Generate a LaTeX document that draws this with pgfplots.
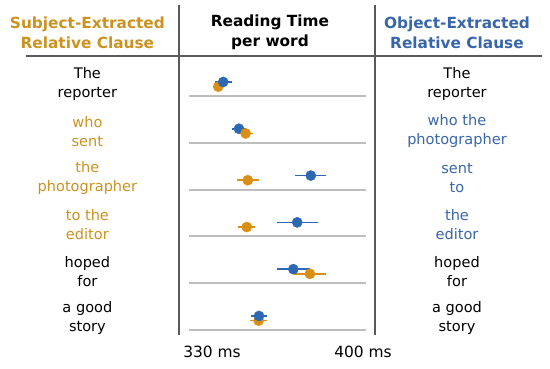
\documentclass[border=0pt]{standalone}
\usepackage{fontspec}
\setmainfont{DejaVu Sans}
\usepackage{pgfplots}
\pgfplotsset{compat=1.18}
\definecolor{dotor}{RGB}{216,143,20}
\definecolor{dotbl}{RGB}{46,104,178}
\definecolor{txtor}{RGB}{204,146,32}
\definecolor{txtbl}{RGB}{56,102,170}
\definecolor{basegray}{RGB}{190,190,190}
\definecolor{vgray}{RGB}{90,90,90}

\pgfplotstableread{
x e y
332.9 2.3 0.8
346.6 5.1 2.8
346.1 3.9 3.8
351.6 3.8 5.8
}\orA
\pgfplotstableread{
x e y
345.6 3.2 1.8
375.4 7.3 4.8
}\orB
\pgfplotstableread{
x e y
335.2 3.9 0.7
342.5 3.4 1.7
375.8 7.2 2.7
369.5 9.5 3.7
367.7 7.7 4.7
351.8 3.6 5.7
}\bl

\begin{document}
\begin{tikzpicture}
\begin{axis}[
  scale only axis, width=177bp, height=330bp,
  xmin=319.337, xmax=401.396,
  ymin=-0.9444, ymax=6.1068, y dir=reverse,
  axis line style={draw=none}, tick style={draw=none},
  xtick={330,400}, xticklabels={330 ms,400 ms},
  xticklabel style={anchor=center, yshift=-17bp, font=\fontsize{15.5}{18}\selectfont},
  ytick={1,2,3,4,5,6}, yticklabels={},
  ymajorgrids, grid style={draw=basegray, line width=2bp},
  clip=false,
]
\addplot[only marks, mark=*, mark size=5.1bp, color=dotor, mark options={fill=dotor, draw=dotor},
  error bars/.cd, x dir=both, x explicit, error mark=none, error bar style={line width=1.5bp, dotor}]
  table[x=x, y=y, x error=e] {\orA};
\addplot[only marks, mark=*, mark size=5.1bp, color=dotbl, mark options={fill=dotbl, draw=dotbl},
  error bars/.cd, x dir=both, x explicit, error mark=none, error bar style={line width=1.5bp, dotbl}]
  table[x=x, y=y, x error=e] {\bl};
\addplot[only marks, mark=*, mark size=5.1bp, color=dotor, mark options={fill=dotor, draw=dotor},
  error bars/.cd, x dir=both, x explicit, error mark=none, error bar style={line width=1.5bp, dotor}]
  table[x=x, y=y, x error=e] {\orB};

% frame lines
\draw[line width=1.3bp, vgray] (axis cs:314.70,-0.9444) -- (axis cs:314.70,6.1068);
\draw[line width=1.3bp, vgray] (axis cs:405.57,-0.9444) -- (axis cs:405.57,6.1068);
\draw[line width=1.5bp, vgray] (axis cs:243.77,0.1453) -- (axis cs:482.99,0.1453);

% headers
\node[txtor, font=\bfseries\fontsize{15.4}{20}\selectfont, align=center] at (axis cs:272.23,-0.3536) {Subject-Extracted\\Relative Clause};
\node[black, font=\bfseries\fontsize{15.4}{20}\selectfont, align=center] at (axis cs:356.89,-0.3536) {Reading Time\\per word};
\node[txtbl, font=\bfseries\fontsize{15.4}{20}\selectfont, align=center] at (axis cs:443.58,-0.3536) {Object-Extracted\\Relative Clause};

% left column
\begin{scope}[every node/.style={font=\fontsize{14.6}{19}\selectfont, align=center}]
\node[black] at (axis cs:272.23,0.752) {The\\reporter};
\node[txtor] at (axis cs:272.23,1.752) {who\\sent};
\node[txtor] at (axis cs:272.23,2.752) {the\\photographer};
\node[txtor] at (axis cs:272.23,3.752) {to the\\editor};
\node[black] at (axis cs:272.23,4.752) {hoped\\for};
\node[black] at (axis cs:272.23,5.752) {a good\\story};
% right column
\node[black] at (axis cs:443.58,0.752) {The\\reporter};
\node[txtbl] at (axis cs:443.58,1.752) {who the\\photographer};
\node[txtbl] at (axis cs:443.58,2.752) {sent\\to};
\node[txtbl] at (axis cs:443.58,3.752) {the\\editor};
\node[black] at (axis cs:443.58,4.752) {hoped\\for};
\node[black] at (axis cs:443.58,5.752) {a good\\story};
\end{scope}

\coordinate (bbA) at (axis cs:231.71,-1.0513);
\coordinate (bbB) at (axis cs:486.70,6.8333);
\end{axis}
\pgfresetboundingbox
\path[use as bounding box] (bbA) rectangle (bbB);
\end{tikzpicture}
\end{document}
